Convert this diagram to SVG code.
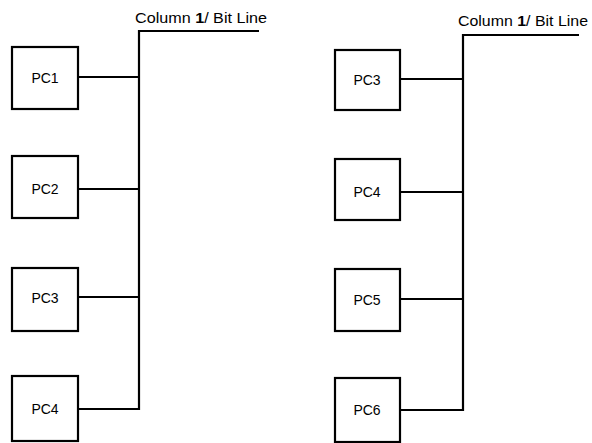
<svg xmlns="http://www.w3.org/2000/svg" width="592" height="443" viewBox="0 0 592 443">
<style>
.box{fill:#fff;stroke:#000;stroke-width:2.2}
.ln{fill:none;stroke:#000;stroke-width:2.2}
.t{font-family:"Liberation Sans",Arial,sans-serif;font-size:14px;fill:#000;text-anchor:middle}
.lbl{font-family:"Liberation Sans",Arial,sans-serif;font-size:14px;fill:#000}
</style>
<rect width="592" height="443" fill="#fff"/>
<g id="connectors">
<polyline class="ln" points="259,31 139,31 139,409 78,409"/>
<line class="ln" x1="78" y1="77" x2="139" y2="77"/>
<line class="ln" x1="78" y1="189" x2="139" y2="189"/>
<line class="ln" x1="78" y1="297" x2="139" y2="297"/>
<polyline class="ln" points="579,35 463,35 463,410 400,410"/>
<line class="ln" x1="400" y1="79" x2="463" y2="79"/>
<line class="ln" x1="400" y1="192" x2="463" y2="192"/>
<line class="ln" x1="400" y1="299" x2="463" y2="299"/>
</g>
<g id="label-left"><text class="lbl" x="135" y="23" textLength="132" lengthAdjust="spacingAndGlyphs">Column <tspan font-weight="bold">1</tspan>/ Bit Line</text></g>
<g id="label-right"><text class="lbl" x="458" y="26" textLength="130" lengthAdjust="spacingAndGlyphs">Column <tspan font-weight="bold">1</tspan>/ Bit Line</text></g>
<g id="L-PC1"><rect class="box" x="12" y="47" width="66" height="62"/><text class="t" x="45" y="83">PC1</text></g>
<g id="L-PC2"><rect class="box" x="12" y="156" width="66" height="62"/><text class="t" x="45" y="194">PC2</text></g>
<g id="L-PC3"><rect class="box" x="12" y="268" width="66" height="63"/><text class="t" x="45" y="303">PC3</text></g>
<g id="L-PC4"><rect class="box" x="12" y="376" width="66" height="65"/><text class="t" x="45" y="414">PC4</text></g>
<g id="R-PC3"><rect class="box" x="335" y="50" width="65" height="60"/><text class="t" x="367" y="85">PC3</text></g>
<g id="R-PC4"><rect class="box" x="335" y="159" width="65" height="61"/><text class="t" x="367" y="197">PC4</text></g>
<g id="R-PC5"><rect class="box" x="335" y="269" width="65" height="62"/><text class="t" x="367" y="305">PC5</text></g>
<g id="R-PC6"><rect class="box" x="335" y="378" width="65" height="64"/><text class="t" x="367" y="415">PC6</text></g>
</svg>
